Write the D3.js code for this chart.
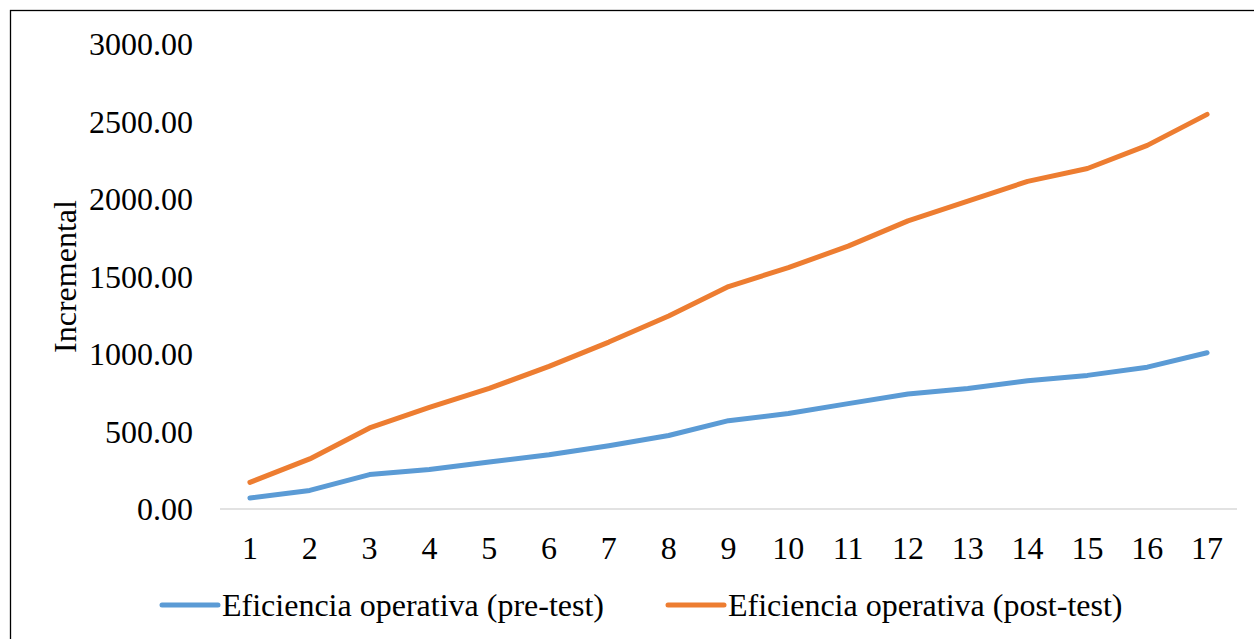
<!DOCTYPE html>
<html>
<head>
<meta charset="utf-8">
<script src="https://cdn.jsdelivr.net/npm/d3@7"></script>
<style>
  html, body { margin: 0; padding: 0; background: #fff; }
  svg { display: block; font-family: "Liberation Serif", "Times New Roman", serif; }
</style>
</head>
<body>
<svg id="chart" width="1254" height="639"></svg>
<script>
const categories = ["1","2","3","4","5","6","7","8","9","10","11","12","13","14","15","16","17"];
const preTest = [71, 120, 222, 255, 303, 350, 408, 474, 570, 616, 680, 742, 777, 827, 862, 915, 1008];
const postTest = [172, 323, 523, 655, 778, 920, 1077, 1245, 1435, 1557, 1696, 1859, 1986, 2114, 2197, 2346, 2546];
const yTicks = [0, 500, 1000, 1500, 2000, 2500, 3000];
const seriesNames = ["Eficiencia operativa (pre-test)", "Eficiencia operativa (post-test)"];
const colors = ["#5b9bd5", "#ed7d31"];

const svg = d3.select("#chart");

// outer frame
svg.append("rect")
    .attr("x", 10.5).attr("y", 10.5)
    .attr("width", 1260).attr("height", 660)
    .attr("fill", "none").attr("stroke", "#000").attr("stroke-width", 1.3);

const x = d3.scalePoint().domain(categories).range([220, 1237]).padding(0.5);
const y = d3.scaleLinear().domain([0, 3000]).range([509, 44]);

// y tick labels
svg.append("g").selectAll("text")
    .data(yTicks)
    .join("text")
    .attr("x", 193)
    .attr("y", d => y(d))
    .attr("dy", "0.35em")
    .attr("text-anchor", "end")
    .attr("font-size", 32)
    .attr("fill", "#000")
    .text(d => d3.format(".2f")(d));

// y title
svg.append("text")
    .attr("transform", `translate(76, ${(y(0) + y(3000)) / 2 + 0}) rotate(-90)`)
    .attr("text-anchor", "middle")
    .attr("font-size", 32)
    .text("Incremental");

// baseline
svg.append("line")
    .attr("x1", 220).attr("x2", 1237)
    .attr("y1", y(0)).attr("y2", y(0))
    .attr("stroke", "#d9d9d9").attr("stroke-width", 1.5);

// x tick labels
svg.append("g").selectAll("text")
    .data(categories)
    .join("text")
    .attr("x", d => x(d))
    .attr("y", 548)
    .attr("dy", "0.35em")
    .attr("text-anchor", "middle")
    .attr("font-size", 32)
    .text(d => d);

const line = d3.line()
    .x((d, i) => x(categories[i]))
    .y(d => y(d));

[preTest, postTest].forEach((values, i) => {
    svg.append("path")
        .datum(values)
        .attr("d", line)
        .attr("fill", "none")
        .attr("stroke", colors[i])
        .attr("stroke-width", 5)
        .attr("stroke-linecap", "round")
        .attr("stroke-linejoin", "round");
});

// legend
const legendX = [162, 668];
seriesNames.forEach((name, i) => {
    const g = svg.append("g").attr("transform", `translate(${legendX[i]}, 605)`);
    g.append("line")
        .attr("x1", 0).attr("x2", 56)
        .attr("y1", 0).attr("y2", 0)
        .attr("stroke", colors[i]).attr("stroke-width", 5)
        .attr("stroke-linecap", "round");
    g.append("text")
        .attr("x", 60)
        .attr("y", 0)
        .attr("dy", "0.35em")
        .attr("font-size", 32)
        .text(name);
});
</script>
</body>
</html>
